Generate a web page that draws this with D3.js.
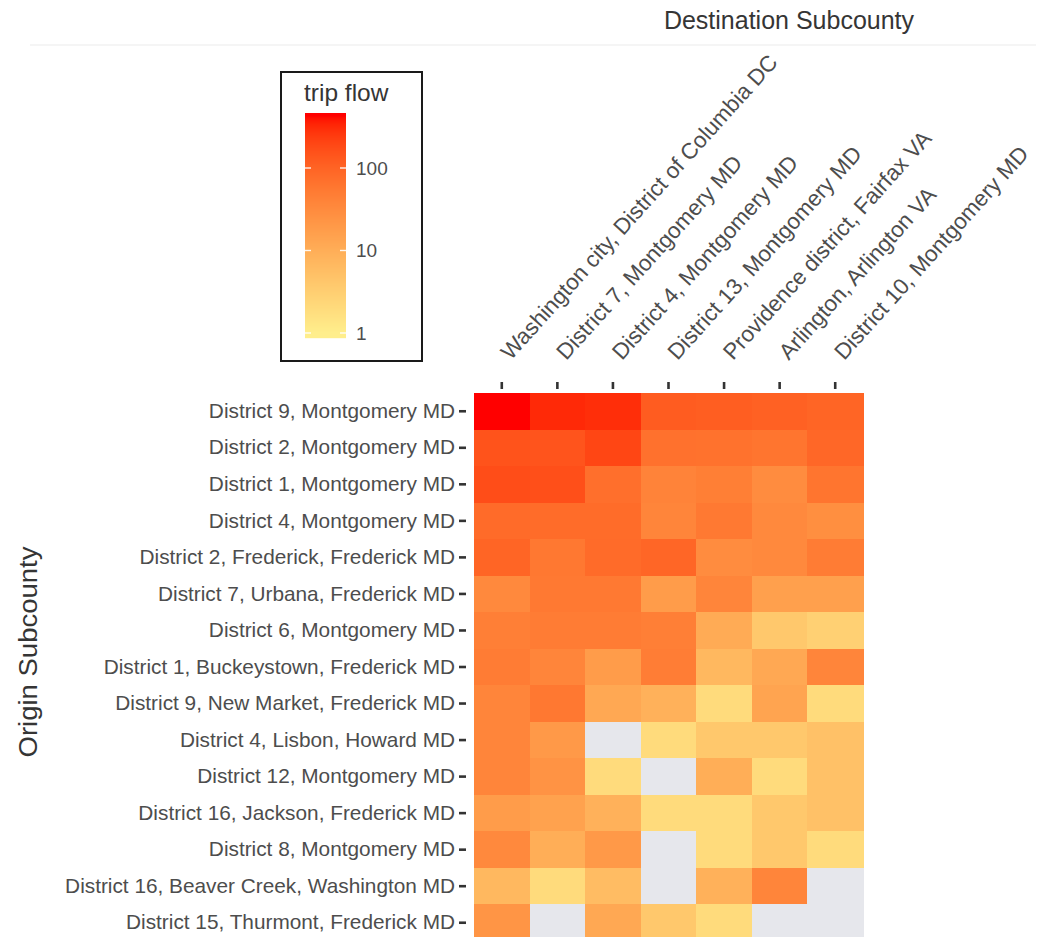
<!DOCTYPE html>
<html>
<head>
<meta charset="utf-8">
<script src="https://cdn.jsdelivr.net/npm/d3@7"></script>
<style>
  html, body { margin: 0; padding: 0; background: #ffffff; }
  svg { display: block; }
</style>
</head>
<body>
<svg id="chart" width="1044" height="937"></svg>
<script>
// Destination columns (left to right)
const destinations = [
  "Washington city, District of Columbia DC",
  "District 7, Montgomery MD",
  "District 4, Montgomery MD",
  "District 13, Montgomery MD",
  "Providence district, Fairfax VA",
  "Arlington, Arlington VA",
  "District 10, Montgomery MD"
];

// Origin rows (top to bottom)
const origins = [
  "District 9, Montgomery MD",
  "District 2, Montgomery MD",
  "District 1, Montgomery MD",
  "District 4, Montgomery MD",
  "District 2, Frederick, Frederick MD",
  "District 7, Urbana, Frederick MD",
  "District 6, Montgomery MD",
  "District 1, Buckeystown, Frederick MD",
  "District 9, New Market, Frederick MD",
  "District 4, Lisbon, Howard MD",
  "District 12, Montgomery MD",
  "District 16, Jackson, Frederick MD",
  "District 8, Montgomery MD",
  "District 16, Beaver Creek, Washington MD",
  "District 15, Thurmont, Frederick MD"
];

// Trip flow per origin row, one value per destination column (null = no trips)
const flows = [
  [430, 320, 300, 120, 115, 105, 95],
  [150, 145, 200, 68, 66, 62, 90],
  [170, 165, 72, 40, 46, 30, 62],
  [82, 80, 80, 38, 55, 33, 28],
  [95, 56, 82, 92, 30, 33, 50],
  [33, 55, 55, 18, 38, 16, 16],
  [45, 50, 50, 45, 11, 4, 3],
  [50, 38, 18, 48, 7, 12, 38],
  [38, 56, 12, 9, 2, 14, 2],
  [38, 20, null, 2, 4, 4, 5],
  [38, 24, 2, null, 10, 2, 5],
  [18, 15, 9, 2, 2, 4, 5],
  [33, 10, 20, null, 2, 4, 2],
  [7, 2, 6, null, 9, 38, null],
  [23, null, 12, 4, 2, null, null]
];

// Legend break labels
const legendBreaks = [1, 10, 100];

const FONT = "'Liberation Sans', Arial, Helvetica, sans-serif";
const AXIS_TEXT = "#4d4d4d";
const TITLE_TEXT = "#353535";
const NA_FILL = "#e6e7ec";

const svg = d3.select("#chart");

const flowExtent = [1, d3.max(flows.flat())];

const x = d3.scaleBand().domain(destinations).range([474, 863]);
const y = d3.scaleBand().domain(origins).range([393, 941]);
const color = d3.scaleSequentialLog(d3.interpolateLab("#ffee8c", "#ff0000"))
  .domain(flowExtent);

// faint frame line along the top of the plot area
svg.append("line")
  .attr("x1", 30).attr("x2", 1036).attr("y1", 45).attr("y2", 45)
  .attr("stroke", "#f2f2f2").attr("stroke-width", 1.5);

// Heatmap cells
const cells = [];
flows.forEach((row, i) => row.forEach((v, j) => cells.push({ o: origins[i], d: destinations[j], v })));

svg.append("g").selectAll("rect")
  .data(cells)
  .join("rect")
  .attr("x", d => x(d.d))
  .attr("y", d => y(d.o))
  .attr("width", x.bandwidth() + 0.6)
  .attr("height", y.bandwidth() + 0.6)
  .attr("fill", d => d.v == null ? NA_FILL : color(d.v))
  .attr("shape-rendering", "crispEdges");

// Left axis: origin labels
const yAxis = svg.append("g")
  .attr("transform", "translate(466,0)")
  .call(d3.axisLeft(y).tickSize(7).tickPadding(4));
yAxis.select(".domain").remove();
yAxis.selectAll(".tick line").attr("stroke", "#333").attr("stroke-width", 2.6);
yAxis.selectAll(".tick text")
  .attr("fill", AXIS_TEXT)
  .style("font-family", FONT)
  .style("font-size", "20.8px");

// Top axis: destination labels, rotated
const xAxis = svg.append("g")
  .attr("transform", "translate(0,389)")
  .call(d3.axisTop(x).tickSize(7));
xAxis.select(".domain").remove();
xAxis.selectAll(".tick line").attr("stroke", "#333").attr("stroke-width", 2.6);
xAxis.selectAll(".tick text")
  .attr("x", 0).attr("y", 0).attr("dy", null)
  .attr("text-anchor", "start")
  .attr("transform", "translate(9,-28) rotate(-48)")
  .attr("fill", AXIS_TEXT)
  .style("font-family", FONT)
  .style("font-size", "22.4px");

// Axis titles
svg.append("text")
  .attr("x", 789).attr("y", 29)
  .attr("text-anchor", "middle")
  .attr("fill", TITLE_TEXT)
  .style("font-family", FONT).style("font-size", "25px")
  .text("Destination Subcounty");

svg.append("text")
  .attr("transform", "translate(37,652) rotate(-90) scale(1.1,1)")
  .attr("text-anchor", "middle")
  .attr("fill", TITLE_TEXT)
  .style("font-family", FONT).style("font-size", "25px")
  .text("Origin Subcounty");

// Legend
const legend = svg.append("g");
legend.append("rect")
  .attr("x", 281).attr("y", 72).attr("width", 141).attr("height", 289)
  .attr("fill", "#fff").attr("stroke", "#1a1a1a").attr("stroke-width", 2);

legend.append("text")
  .attr("x", 304).attr("y", 101)
  .attr("fill", TITLE_TEXT)
  .style("font-family", FONT).style("font-size", "24.5px")
  .text("trip flow");

const barX = 305, barW = 41, barTop = 113, barBottom = 338;
const ly = d3.scaleLog().domain([1, 10]).range([333, 250.5]);

const barRows = d3.range(barTop, barBottom, 1);
legend.append("g").selectAll("rect")
  .data(barRows)
  .join("rect")
  .attr("x", barX).attr("y", d => d)
  .attr("width", barW).attr("height", 1.2)
  .attr("fill", d => {
    const v = Math.max(flowExtent[0], Math.min(flowExtent[1], ly.invert(d + 0.5)));
    return color(v);
  });

// white break marks on both edges of the colour bar
legend.append("g").selectAll("g")
  .data(legendBreaks)
  .join("g")
  .each(function (b) {
    const g = d3.select(this);
    [[barX, barX + 6], [barX + barW - 6, barX + barW]].forEach(([a, c]) =>
      g.append("line")
        .attr("x1", a).attr("x2", c).attr("y1", ly(b)).attr("y2", ly(b))
        .attr("stroke", "#fff").attr("stroke-width", 1.4).attr("opacity", 0.9));
  });

const legendAxis = legend.append("g")
  .attr("transform", `translate(${barX + barW},0)`)
  .call(d3.axisRight(ly).tickValues(legendBreaks).tickFormat(d3.format("d")).tickSize(0).tickPadding(10));
legendAxis.select(".domain").remove();
legendAxis.selectAll(".tick text")
  .attr("fill", AXIS_TEXT)
  .style("font-family", FONT)
  .style("font-size", "19px");
</script>
</body>
</html>
